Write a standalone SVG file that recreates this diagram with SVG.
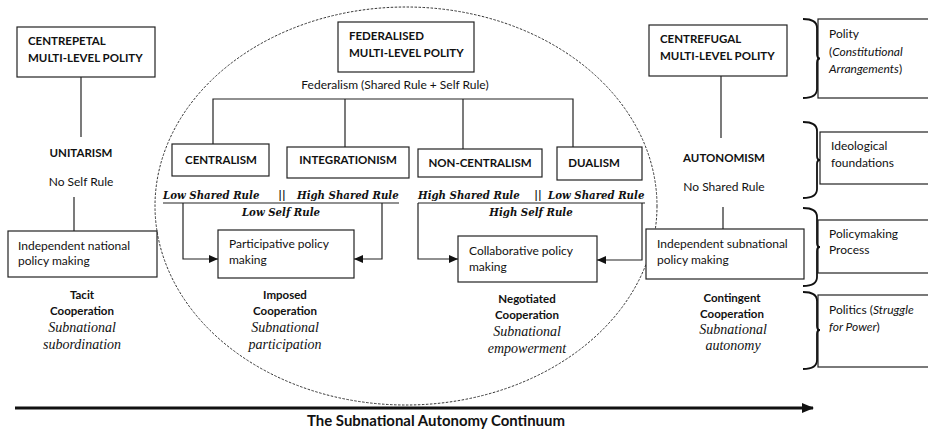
<svg xmlns="http://www.w3.org/2000/svg" width="928" height="434" viewBox="0 0 928 434">
<defs>
<style>
.box{fill:#fff;stroke:#222;stroke-width:1.2}
.ln{fill:none;stroke:#222;stroke-width:1.2}
.br{fill:none;stroke:#111;stroke-width:1.8}
.t{font-family:Lato,"Open Sans",sans-serif;font-size:12px;fill:#111}
.h{font-family:Lato,"Open Sans",sans-serif;font-size:11.5px;font-weight:bold;fill:#111}
.c{text-anchor:middle}
.i{font-style:italic}
.rule{font-family:"DejaVu Serif",serif;font-style:italic;font-weight:bold;font-size:10.2px;fill:#111}
.sc{font-family:"Liberation Serif",serif;font-style:italic;font-size:14px;fill:#111;text-anchor:middle}
</style>
<marker id="ah" markerUnits="userSpaceOnUse" markerWidth="9" markerHeight="8" refX="9" refY="4" orient="auto">
<path d="M0,0 L9,4 L0,8 z" fill="#111"/>
</marker>
<marker id="big" markerUnits="userSpaceOnUse" markerWidth="12" markerHeight="10" refX="11" refY="5" orient="auto">
<path d="M0,0 L12,5 L0,10 z" fill="#111"/>
</marker>
</defs>
<rect width="928" height="434" fill="#fff"/>

<ellipse id="federal-zone" cx="406" cy="206" rx="251" ry="199" fill="none" stroke="#333" stroke-width="1" stroke-dasharray="2.5 1.5"/>

<g id="connectors">
<line class="ln" x1="81" y1="77" x2="81" y2="137"/>
<line class="ln" x1="74" y1="197" x2="74" y2="231"/>
<line class="ln" x1="721" y1="76" x2="721" y2="138"/>
<line class="ln" x1="723" y1="207" x2="723" y2="229"/>
<polyline class="ln" points="213,144 213,99 573,99 573,147"/>
<line class="ln" x1="345" y1="99" x2="345" y2="147"/>
<line class="ln" x1="463" y1="99" x2="463" y2="149"/>
<line class="ln" x1="163" y1="203" x2="399" y2="203"/>
<line class="ln" x1="418" y1="203" x2="645" y2="203"/>
<polyline class="ln" points="183,203 183,259 218,259" marker-end="url(#ah)"/>
<polyline class="ln" points="382,203 382,259 354,259" marker-end="url(#ah)"/>
<polyline class="ln" points="418,203 418,259 458,259" marker-end="url(#ah)"/>
<polyline class="ln" points="642,203 642,260 597,260" marker-end="url(#ah)"/>
<line x1="15" y1="408" x2="813" y2="408" stroke="#111" stroke-width="3.2" marker-end="url(#big)"/>
</g>

<g id="centrepetal">
<rect class="box" x="17" y="27" width="138" height="50"/>
<text class="h" x="28" y="45">CENTREPETAL</text>
<text class="h" x="28" y="62">MULTI-LEVEL POLITY</text>
</g>
<g id="unitarism">
<text class="h c" x="81" y="157">UNITARISM</text>
<text class="t c" x="81" y="186">No Self Rule</text>
</g>
<g id="independent-national">
<rect class="box" x="8" y="231" width="149" height="46"/>
<text class="t" x="18" y="250">Independent national</text>
<text class="t" x="18" y="265">policy making</text>
</g>
<g id="tacit">
<text class="h c" x="82" y="299">Tacit</text>
<text class="h c" x="82" y="315">Cooperation</text>
<text class="sc" x="82" y="332">Subnational</text>
<text class="sc" x="82" y="349">subordination</text>
</g>

<g id="federalised">
<rect class="box" x="338" y="22" width="136" height="50"/>
<text class="h" x="349" y="40">FEDERALISED</text>
<text class="h" x="349" y="57">MULTI-LEVEL POLITY</text>
<text class="t c" x="395" y="89">Federalism (Shared Rule + Self Rule)</text>
</g>
<g id="centralism">
<rect class="box" x="172" y="144" width="97" height="32"/>
<text class="h c" x="221" y="164">CENTRALISM</text>
</g>
<g id="integrationism">
<rect class="box" x="287" y="147" width="122" height="31"/>
<text class="h c" x="348" y="164">INTEGRATIONISM</text>
</g>
<g id="non-centralism">
<rect class="box" x="418" y="149" width="124" height="28"/>
<text class="h c" x="480" y="167">NON-CENTRALISM</text>
</g>
<g id="dualism">
<rect class="box" x="557" y="147" width="85" height="33"/>
<text class="h c" x="594" y="167">DUALISM</text>
</g>

<g id="low-self-rule">
<text class="rule" x="163" y="199">Low Shared Rule</text>
<text class="rule c" x="282" y="199">||</text>
<text class="rule" x="297" y="199">High Shared Rule</text>
<text class="rule c" x="281" y="216">Low Self Rule</text>
</g>
<g id="high-self-rule">
<text class="rule" x="418" y="199">High Shared Rule</text>
<text class="rule c" x="538" y="199">||</text>
<text class="rule" x="548" y="199">Low Shared Rule</text>
<text class="rule c" x="531" y="216">High Self Rule</text>
</g>

<g id="participative">
<rect class="box" x="218" y="230" width="136" height="48"/>
<text class="t" x="229" y="248">Participative policy</text>
<text class="t" x="229" y="264">making</text>
</g>
<g id="imposed">
<text class="h c" x="285" y="299">Imposed</text>
<text class="h c" x="285" y="315">Cooperation</text>
<text class="sc" x="285" y="332">Subnational</text>
<text class="sc" x="285" y="349">participation</text>
</g>
<g id="collaborative">
<rect class="box" x="458" y="236" width="139" height="46"/>
<text class="t" x="469" y="255">Collaborative policy</text>
<text class="t" x="469" y="271">making</text>
</g>
<g id="negotiated">
<text class="h c" x="527" y="303">Negotiated</text>
<text class="h c" x="527" y="319">Cooperation</text>
<text class="sc" x="527" y="336">Subnational</text>
<text class="sc" x="527" y="353">empowerment</text>
</g>

<g id="centrefugal">
<rect class="box" x="649" y="25" width="138" height="51"/>
<text class="h" x="660" y="43">CENTREFUGAL</text>
<text class="h" x="660" y="60">MULTI-LEVEL POLITY</text>
</g>
<g id="autonomism">
<text class="h c" x="724" y="162">AUTONOMISM</text>
<text class="t c" x="724" y="191">No Shared Rule</text>
</g>
<g id="independent-subnational">
<rect class="box" x="646" y="229" width="158" height="50"/>
<text class="t" x="657" y="248">Independent subnational</text>
<text class="t" x="657" y="264">policy making</text>
</g>
<g id="contingent">
<text class="h c" x="732" y="302">Contingent</text>
<text class="h c" x="732" y="318">Cooperation</text>
<text class="sc" x="733" y="334">Subnational</text>
<text class="sc" x="733" y="350">autonomy</text>
</g>

<g id="polity">
<rect class="box" x="818" y="19" width="120" height="79"/>
<path class="br" d="M803,19 Q817,19 817,28 L817,54 Q817,58.5 820,58.5 Q817,58.5 817,63 L817,89 Q817,98 803,98"/>
<text class="t" x="829" y="38">Polity</text>
<text class="t" x="829" y="56">(<tspan class="i">Constitutional</tspan></text>
<text class="t" x="829" y="73"><tspan class="i">Arrangements</tspan>)</text>
</g>
<g id="ideological">
<rect class="box" x="820" y="132" width="118" height="52"/>
<path class="br" d="M803,122 Q817,122 817,131 L817,156 Q817,160 820,160 Q817,160 817,164 L817,189 Q817,198 803,198"/>
<text class="t" x="831" y="150">Ideological</text>
<text class="t" x="831" y="167">foundations</text>
</g>
<g id="policymaking">
<rect class="box" x="818" y="220" width="120" height="53"/>
<path class="br" d="M803,208 Q817,208 817,217 L817,243 Q817,247 820,247 Q817,247 817,251 L817,277 Q817,286 803,286"/>
<text class="t" x="829" y="238">Policymaking</text>
<text class="t" x="829" y="254">Process</text>
</g>
<g id="politics">
<rect class="box" x="818" y="295" width="120" height="72"/>
<path class="br" d="M803,292 Q817,292 817,301 L817,326 Q817,330 820,330 Q817,330 817,334 L817,360 Q817,369 803,369"/>
<text class="t" x="829" y="314">Politics (<tspan class="i">Struggle</tspan></text>
<text class="t" x="829" y="331"><tspan class="i">for Power</tspan>)</text>
</g>

<g id="continuum-label">
<text class="h c" x="436" y="426" style="font-size:14.5px" textLength="258" lengthAdjust="spacingAndGlyphs">The Subnational Autonomy Continuum</text>
</g>
</svg>
